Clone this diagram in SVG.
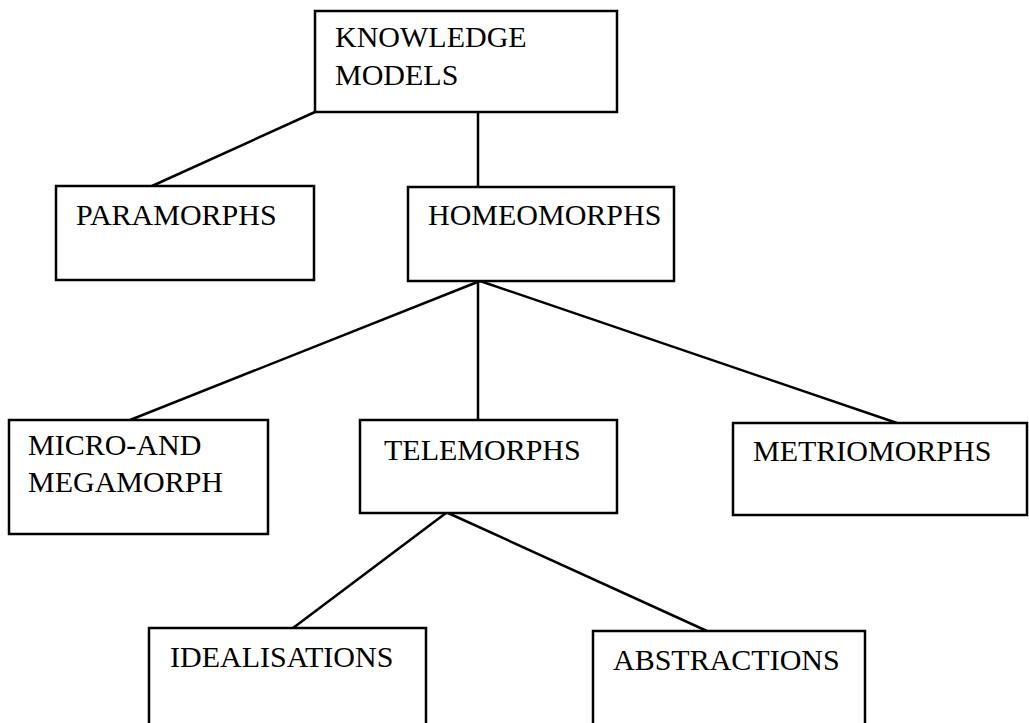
<svg xmlns="http://www.w3.org/2000/svg" width="1029" height="723" viewBox="0 0 1029 723">
<style>
.box{fill:#fff;stroke:#000;stroke-width:2.5}
.lbl{font-family:"Liberation Serif","Times New Roman",serif;font-size:30px;fill:#000}
.con{stroke:#000;stroke-width:2.5;fill:none}
</style>
<rect width="1029" height="723" fill="#fff"/>
<g id="connectors">
<line class="con" x1="315" y1="112" x2="152" y2="186"/>
<line class="con" x1="478" y1="112" x2="478" y2="187"/>
<line class="con" x1="480" y1="281" x2="130" y2="420"/>
<line class="con" x1="478" y1="281" x2="478" y2="420"/>
<line class="con" x1="480" y1="281" x2="897" y2="423"/>
<line class="con" x1="446" y1="513" x2="293" y2="628"/>
<line class="con" x1="448" y1="513" x2="707" y2="631"/>
</g>
<g id="knowledge-models">
<rect class="box" x="315" y="11" width="302" height="101"/>
<text class="lbl" x="335" y="47">KNOWLEDGE</text>
<text class="lbl" x="335" y="85">MODELS</text>
</g>
<g id="paramorphs">
<rect class="box" x="56" y="186" width="258" height="94"/>
<text class="lbl" x="76" y="225">PARAMORPHS</text>
</g>
<g id="homeomorphs">
<rect class="box" x="408" y="187" width="266" height="94"/>
<text class="lbl" x="428" y="225">HOMEOMORPHS</text>
</g>
<g id="micro-megamorph">
<rect class="box" x="9" y="420" width="259" height="114"/>
<text class="lbl" x="28" y="455">MICRO-AND</text>
<text class="lbl" x="28" y="492">MEGAMORPH</text>
</g>
<g id="telemorphs">
<rect class="box" x="360" y="420" width="257" height="93"/>
<text class="lbl" x="384" y="460">TELEMORPHS</text>
</g>
<g id="metriomorphs">
<rect class="box" x="733" y="423" width="294" height="92"/>
<text class="lbl" x="753" y="461">METRIOMORPHS</text>
</g>
<g id="idealisations">
<rect class="box" x="149" y="628" width="277" height="110"/>
<text class="lbl" x="170" y="667">IDEALISATIONS</text>
</g>
<g id="abstractions">
<rect class="box" x="593" y="631" width="272" height="110"/>
<text class="lbl" x="613" y="670">ABSTRACTIONS</text>
</g>
</svg>
